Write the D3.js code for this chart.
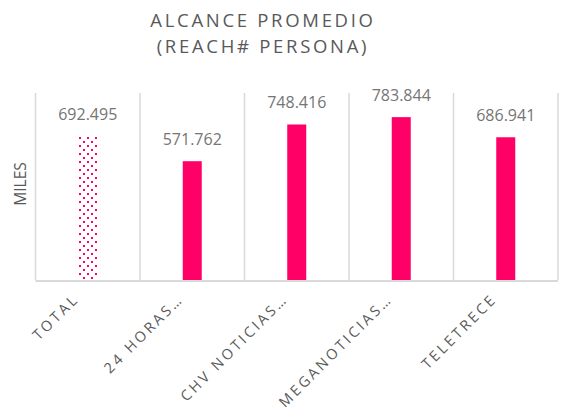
<!DOCTYPE html>
<html>
<meta charset="utf-8">
<style>
  body { margin: 0; background: #fff; }
  text { font-family: "Open Sans", "Liberation Sans", sans-serif; }
</style>
<body>
<script src="https://d3js.org/d3.v7.min.js"></script>
<script>

// data
var categories = ["TOTAL", "24 HORAS…", "CHV NOTICIAS…", "MEGANOTICIAS…", "TELETRECE"];
var values = [692.495, 571.762, 748.416, 783.844, 686.941];
var valueLabels = ["692.495", "571.762", "748.416", "783.844", "686.941"];
var titleLines = ["ALCANCE PROMEDIO", "(REACH# PERSONA)"];

var width = 562, height = 417;
var plotLeft = 35.5, plotRight = 558, plotTop = 93, plotBottom = 280;

var svg = d3.select("body").append("svg")
  .attr("width", width)
  .attr("height", height);

// dotted fill for the total bar
var pat = svg.append("defs").append("pattern")
  .attr("id", "dots")
  .attr("patternUnits", "userSpaceOnUse")
  .attr("width", 8).attr("height", 8)
  .attr("x", 78).attr("y", 0);
pat.append("rect").attr("x", 1).attr("y", 1).attr("width", 2).attr("height", 2).attr("fill", "#ff0066");
pat.append("rect").attr("x", 5).attr("y", 5).attr("width", 2).attr("height", 2).attr("fill", "#ff0066");

var x = d3.scaleBand()
  .domain(categories)
  .range([plotLeft, plotRight]);

var y = d3.scaleLinear()
  .domain([0, 900])
  .range([plotBottom, plotTop]);

// vertical gridlines at category boundaries
var bounds = categories.map(function(c) { return x(c); }).concat([plotRight]);
svg.append("g").selectAll("line")
  .data(bounds)
  .enter().append("line")
  .attr("x1", function(d) { return d; })
  .attr("x2", function(d) { return d; })
  .attr("y1", plotTop)
  .attr("y2", plotBottom)
  .style("stroke", "#d9d9d9")
  .style("stroke-width", 1.5);

var barW = 19;
svg.append("g").selectAll("rect")
  .data(values)
  .enter().append("rect")
  .attr("x", function(d, i) { return x(categories[i]) + x.bandwidth() / 2 - barW / 2; })
  .attr("y", function(d) { return y(d); })
  .attr("width", barW)
  .attr("height", function(d) { return plotBottom - y(d); })
  .style("fill", function(d, i) { return i == 0 ? "url(#dots)" : "#ff0066"; });

// baseline
svg.append("line")
  .attr("x1", plotLeft).attr("x2", plotRight)
  .attr("y1", plotBottom + 1).attr("y2", plotBottom + 1)
  .style("stroke", "#d9d9d9")
  .style("stroke-width", 2);

// value labels
svg.append("g").selectAll("text")
  .data(values)
  .enter().append("text")
  .attr("x", function(d, i) { return x(categories[i]) + x.bandwidth() / 2; })
  .attr("y", function(d) { return y(d) - 16; })
  .attr("text-anchor", "middle")
  .style("font-size", "16px")
  .style("fill", "#757575")
  .text(function(d, i) { return valueLabels[i]; });

// category labels, rotated
svg.append("g").selectAll("text")
  .data(categories)
  .enter().append("text")
  .attr("transform", function(d) {
    return "translate(" + (x(d) + x.bandwidth() / 2 - 8) + "," + (plotBottom + 20) + ") rotate(-45)";
  })
  .attr("text-anchor", "end")
  .style("font-size", "14.5px")
  .style("letter-spacing", "2.8px")
  .style("fill", "#595959")
  .text(function(d) { return d; });

// title
svg.append("g").selectAll("text")
  .data(titleLines)
  .enter().append("text")
  .attr("x", 263)
  .attr("y", function(d, i) { return 27 + i * 26; })
  .attr("text-anchor", "middle")
  .style("font-size", "18.5px")
  .style("letter-spacing", "2.7px")
  .style("fill", "#595959")
  .text(function(d) { return d; });

// y axis title
svg.append("text")
  .attr("transform", "translate(26,184) rotate(-90)")
  .attr("text-anchor", "middle")
  .style("font-size", "15.5px")
  .style("fill", "#595959")
  .text("MILES");

</script>
</body>
</html>
